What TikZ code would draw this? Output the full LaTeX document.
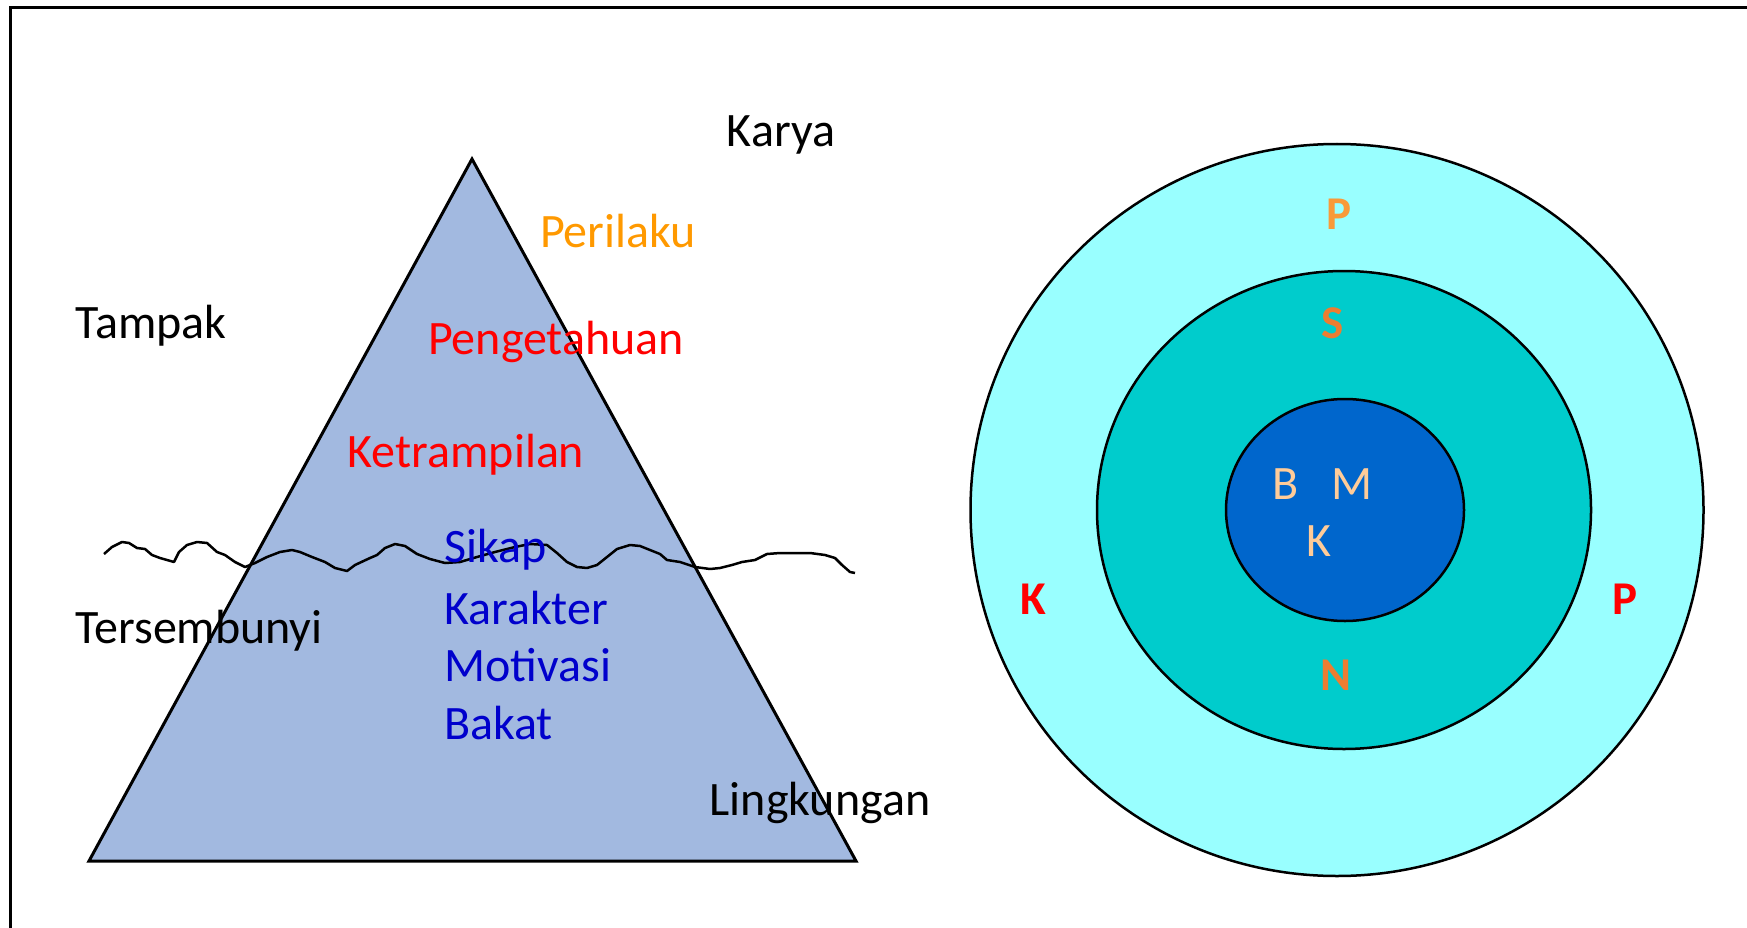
\documentclass[tikz,border=0pt]{standalone}
\usepackage{fontspec}
\setmainfont{Carlito}
\begin{document}
\begin{tikzpicture}[x=1pt,y=-1pt,
  lbl/.style={inner sep=0pt,font=\fontsize{48}{57}\selectfont},
  blbl/.style={inner sep=0pt,font=\fontsize{47}{56}\selectfont\bfseries},
  item/.style={lbl,anchor=west,text=itemblue}]
\definecolor{tri}{HTML}{A2B9E0}
\definecolor{outerc}{HTML}{99FFFF}
\definecolor{midc}{HTML}{00CCCC}
\definecolor{innerc}{HTML}{0066CC}
\definecolor{orangeA}{HTML}{FF9900}
\definecolor{orangeB}{HTML}{ED7D31}
\definecolor{orangeP}{HTML}{F99A38}
\definecolor{peach}{HTML}{FFCC99}
\definecolor{itemblue}{HTML}{0000CC}
\useasboundingbox (0,0) rectangle (1747,928);
% frame (only top and left visible)
\draw[line width=3pt] (10,935) -- (10,8) -- (1755,8);
% triangle
\draw[fill=tri,line width=3pt,line join=miter] (472,159) -- (856,861) -- (89,861) -- cycle;
% wavy line
\draw[line width=2.5pt,line join=round]
 (104,554) -- (112,547) -- (122,542) -- (129,543) -- (137,548) -- (145,549) -- (152,555) -- (160,558) -- (174,562) -- (179,552) -- (187,545) -- (197,542) -- (207,543) -- (217,552) -- (225,555) -- (235,562) -- (245,567) -- (255,563) -- (267,557) -- (280,552) -- (292,550) -- (300,552) -- (312,557) -- (325,562) -- (335,568) -- (347,571) -- (355,565) -- (370,558) -- (377,555) -- (385,548) -- (395,544) -- (405,546) -- (417,554) -- (430,559) -- (445,563) -- (460,562) -- (477,557) -- (495,552) -- (515,547) -- (530,544) -- (547,545) -- (557,553) -- (567,562) -- (577,567) -- (587,568) -- (597,565) -- (607,557) -- (617,549) -- (630,545) -- (640,546) -- (650,550) -- (660,554) -- (667,560) -- (680,562) -- (695,567) -- (710,569) -- (720,568) -- (732,565) -- (742,562) -- (755,560) -- (767,554) -- (780,553) -- (810,553) -- (825,555) -- (835,558) -- (842,565) -- (850,572) -- (855,573);
% left texts
\node[lbl] (karya) at (781,135) {Karya};
\node[lbl,text=orangeA] (perilaku) at (618,231) {Perilaku};
\node[lbl] (tampak) at (151,326) {Tampak};
\node[lbl,text=red] (pengetahuan) at (556,342) {Pengetahuan};
\node[lbl,text=red] (ketrampilan) at (466,455) {Ketrampilan};
\node[item] (sikap) at (444,550) {Sikap};
\node[item] (karakter) at (444,608) {Karakter};
\node[item] (motivasi) at (444,665) {Motivasi};
\node[item] (bakat) at (444,723) {Bakat};
\node[lbl] (tersembunyi) at (199,631) {Tersembunyi};
\node[lbl] (lingkungan) at (820,803) {Lingkungan};
% circles
\draw[fill=outerc,line width=2.5pt] (1337,510) ellipse [x radius=366.5, y radius=366];
\draw[fill=midc,line width=2.5pt] (1344,510) ellipse [x radius=247, y radius=239];
\draw[fill=innerc,line width=2.5pt] (1345,510) ellipse [x radius=119, y radius=111];
% circle letters
\node[blbl,text=orangeP] (ptop) at (1339,214) {P};
\node[blbl,text=orangeB] (s) at (1333,323) {S};
\node[blbl,text=orangeB] (n) at (1336,675) {N};
\node[blbl,text=red] (kleft) at (1033,599) {K};
\node[blbl,text=red] (pright) at (1625,599) {P};
\node[lbl,text=peach] (b) at (1286,484) {B};
\node[lbl,text=peach] (m) at (1352,484) {M};
\node[lbl,text=peach] (k) at (1319,541) {K};
\end{tikzpicture}
\end{document}
